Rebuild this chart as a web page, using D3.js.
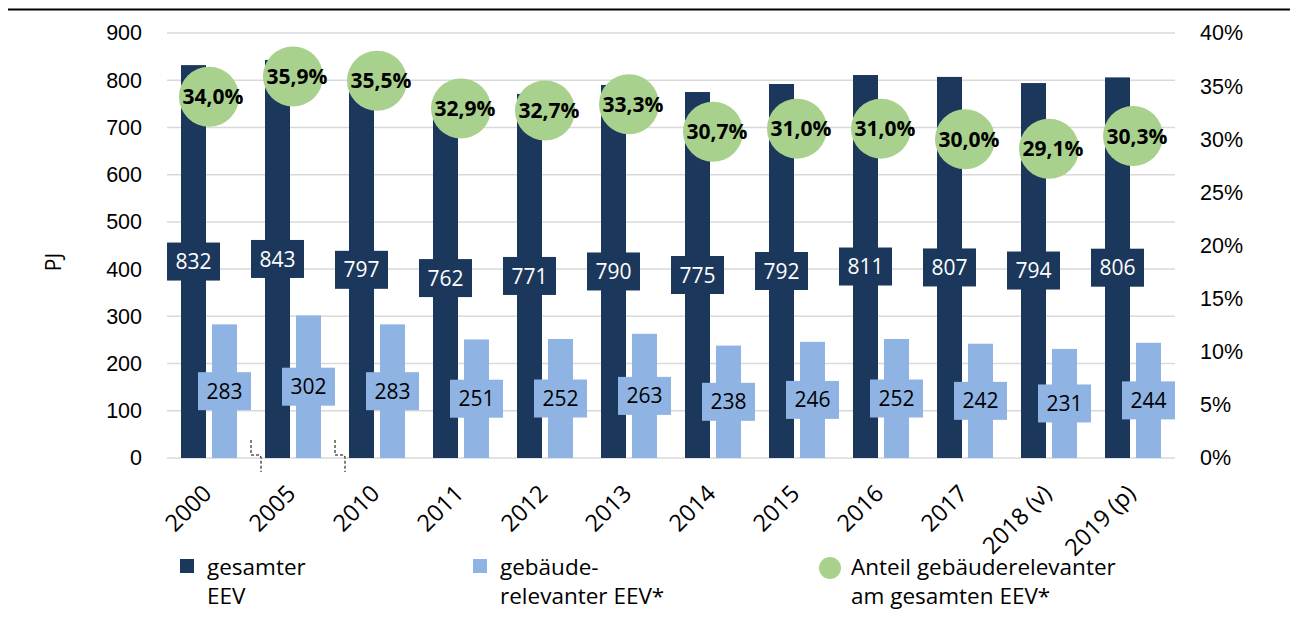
<!DOCTYPE html>
<html>
<head>
<meta charset="utf-8">
<script src="https://cdn.jsdelivr.net/npm/d3@7"></script>
<style>
  body { margin: 0; background: #fff; }
  svg { display: block; font-family: "Open Sans", Carlito, Calibri, sans-serif; }
</style>
</head>
<body>
<svg id="chart" width="1290" height="617"></svg>
<script>
// ---- data ----
const years = ['2000', '2005', '2010', '2011', '2012', '2013', '2014', '2015', '2016', '2017', '2018 (v)', '2019 (p)'];
const totalEEV = [832, 843, 797, 762, 771, 790, 775, 792, 811, 807, 794, 806];
const buildingEEV = [283, 302, 283, 251, 252, 263, 238, 246, 252, 242, 231, 244];
const sharePct = [34.0, 35.9, 35.5, 32.9, 32.7, 33.3, 30.7, 31.0, 31.0, 30.0, 29.1, 30.3];
const leftTicks = [0, 100, 200, 300, 400, 500, 600, 700, 800, 900];
const rightTicks = [0, 5, 10, 15, 20, 25, 30, 35, 40];
const breaksAfter = [0, 1]; // axis breaks between 2000|2005 and 2005|2010

const DARK = '#1b375c', LIGHT = '#8fb4e3', GREEN = '#a9d18e';
const FS = 21;

const svg = d3.select('#chart');
const plot = { left: 167, right: 1175, top: 33, bottom: 458 };

const x = d3.scaleBand().domain(years).range([plot.left, plot.right]).padding(0);
const y = d3.scaleLinear().domain([0, 900]).range([plot.bottom, plot.top]);
const yR = d3.scaleLinear().domain([0, 40]).range([plot.bottom, plot.top]);

const BAR_W = 25, GAP = 6;
const fmt = d => d.toFixed(1).replace('.', ',') + '%';

// top rule
svg.append('line').attr('x1', 8).attr('x2', 1290).attr('y1', 9.5).attr('y2', 9.5)
    .attr('stroke', '#000').attr('stroke-width', 2);

// gridlines
svg.append('g').selectAll('line').data(leftTicks).join('line')
    .attr('x1', plot.left).attr('x2', plot.right)
    .attr('y1', d => y(d)).attr('y2', d => y(d))
    .attr('stroke', '#d9d9d9').attr('stroke-width', 1.5);

// left axis
const gl = svg.append('g').attr('transform', `translate(${plot.left},0)`)
    .call(d3.axisLeft(y).tickValues(leftTicks).tickSize(0).tickPadding(25));
gl.select('.domain').remove();
gl.selectAll('text').attr('font-size', FS + 0.5).attr('fill', '#000').attr('font-family', null);

// right axis
const gr = svg.append('g').attr('transform', `translate(${plot.right},0)`)
    .call(d3.axisRight(yR).tickValues(rightTicks).tickSize(0).tickPadding(25).tickFormat(d => d + '%'));
gr.select('.domain').remove();
gr.selectAll('text').attr('font-size', FS + 0.5).attr('fill', '#000').attr('font-family', null);

// PJ title
svg.append('text').attr('transform', 'translate(53,262) rotate(-90)')
    .attr('text-anchor', 'middle').attr('dominant-baseline', 'central')
    .attr('font-size', FS).text('PJ');

// x axis labels (rotated)
svg.append('g').selectAll('text').data(years).join('text')
    .attr('transform', d => `translate(${x(d) + x.bandwidth() / 2 - 8},${plot.bottom + 25}) rotate(-45)`)
    .attr('text-anchor', 'end').attr('dy', '0.72em')
    .attr('font-size', 23.5).text(d => d);

const cx = i => x(years[i]) + x.bandwidth() / 2;

// bars
const darkX = i => cx(i) - GAP / 2 - BAR_W;
const lightX = i => cx(i) + GAP / 2;

svg.append('g').selectAll('rect').data(totalEEV).join('rect')
    .attr('x', (d, i) => darkX(i)).attr('width', BAR_W)
    .attr('y', d => y(d)).attr('height', d => y(0) - y(d))
    .attr('fill', DARK);

svg.append('g').selectAll('rect').data(buildingEEV).join('rect')
    .attr('x', (d, i) => lightX(i)).attr('width', BAR_W)
    .attr('y', d => y(d)).attr('height', d => y(0) - y(d))
    .attr('fill', LIGHT);

// bar value labels (centered)
const BOX_W = 53, BOX_H = 38;
function barLabels(vals, xc, fill, color) {
    const g = svg.append('g').selectAll('g').data(vals).join('g')
        .attr('transform', (d, i) => `translate(${xc(i)},${y(d / 2)})`);
    g.append('rect').attr('x', -BOX_W / 2).attr('y', -BOX_H / 2)
        .attr('width', BOX_W).attr('height', BOX_H).attr('fill', fill);
    g.append('text').attr('text-anchor', 'middle').attr('dy', '0.36em')
        .attr('font-size', FS).attr('fill', color).text(d => d);
}
barLabels(totalEEV, i => darkX(i) + BAR_W / 2, DARK, '#fff');
barLabels(buildingEEV, i => lightX(i) + BAR_W / 2, LIGHT, '#000');

// share circles
const pts = svg.append('g').selectAll('g').data(sharePct).join('g')
    .attr('transform', (d, i) => `translate(${cx(i)},${yR(d)})`);
pts.append('circle').attr('r', 30).attr('fill', GREEN);
pts.append('text').attr('text-anchor', 'middle').attr('dx', 4).attr('dy', '0.36em')
    .attr('font-size', FS).attr('font-weight', 'bold').text(d => fmt(d));

// axis break marks
const y0 = y(0);
svg.append('g').selectAll('path').data(breaksAfter).join('path')
    .attr('d', i => {
        const b = x(years[i]) + x.bandwidth();
        return `M${b},${y0 - 18}V${y0 - 3}H${b + 9}L${b + 10},${y0 - 1}V${y0 + 14}`;
    })
    .attr('fill', 'none').attr('stroke', '#000').attr('stroke-width', 1)
    .attr('stroke-dasharray', '3,2');

// legend
const legend = [
    { kind: 'rect', color: DARK, x: 180, lines: ['gesamter', 'EEV'] },
    { kind: 'rect', color: LIGHT, x: 473, lines: ['gebäude-', 'relevanter EEV*'] },
    { kind: 'circle', color: GREEN, x: 819, lines: ['Anteil gebäuderelevanter', 'am gesamten EEV*'] }
];
const lg = svg.append('g').selectAll('g').data(legend).join('g')
    .attr('transform', d => `translate(${d.x},559)`);
lg.filter(d => d.kind === 'rect').append('rect')
    .attr('width', 14).attr('height', 14).attr('fill', d => d.color);
lg.filter(d => d.kind === 'circle').append('circle')
    .attr('cx', 11).attr('cy', 9).attr('r', 11).attr('fill', d => d.color);
lg.each(function (d) {
    const tx = d.kind === 'rect' ? 27 : 32;
    const t = d3.select(this).append('text').attr('font-size', 22.5);
    d.lines.forEach((l, k) => t.append('tspan').attr('x', tx)
        .attr('y', 16 + k * 29).text(l));
});
</script>
</body>
</html>
